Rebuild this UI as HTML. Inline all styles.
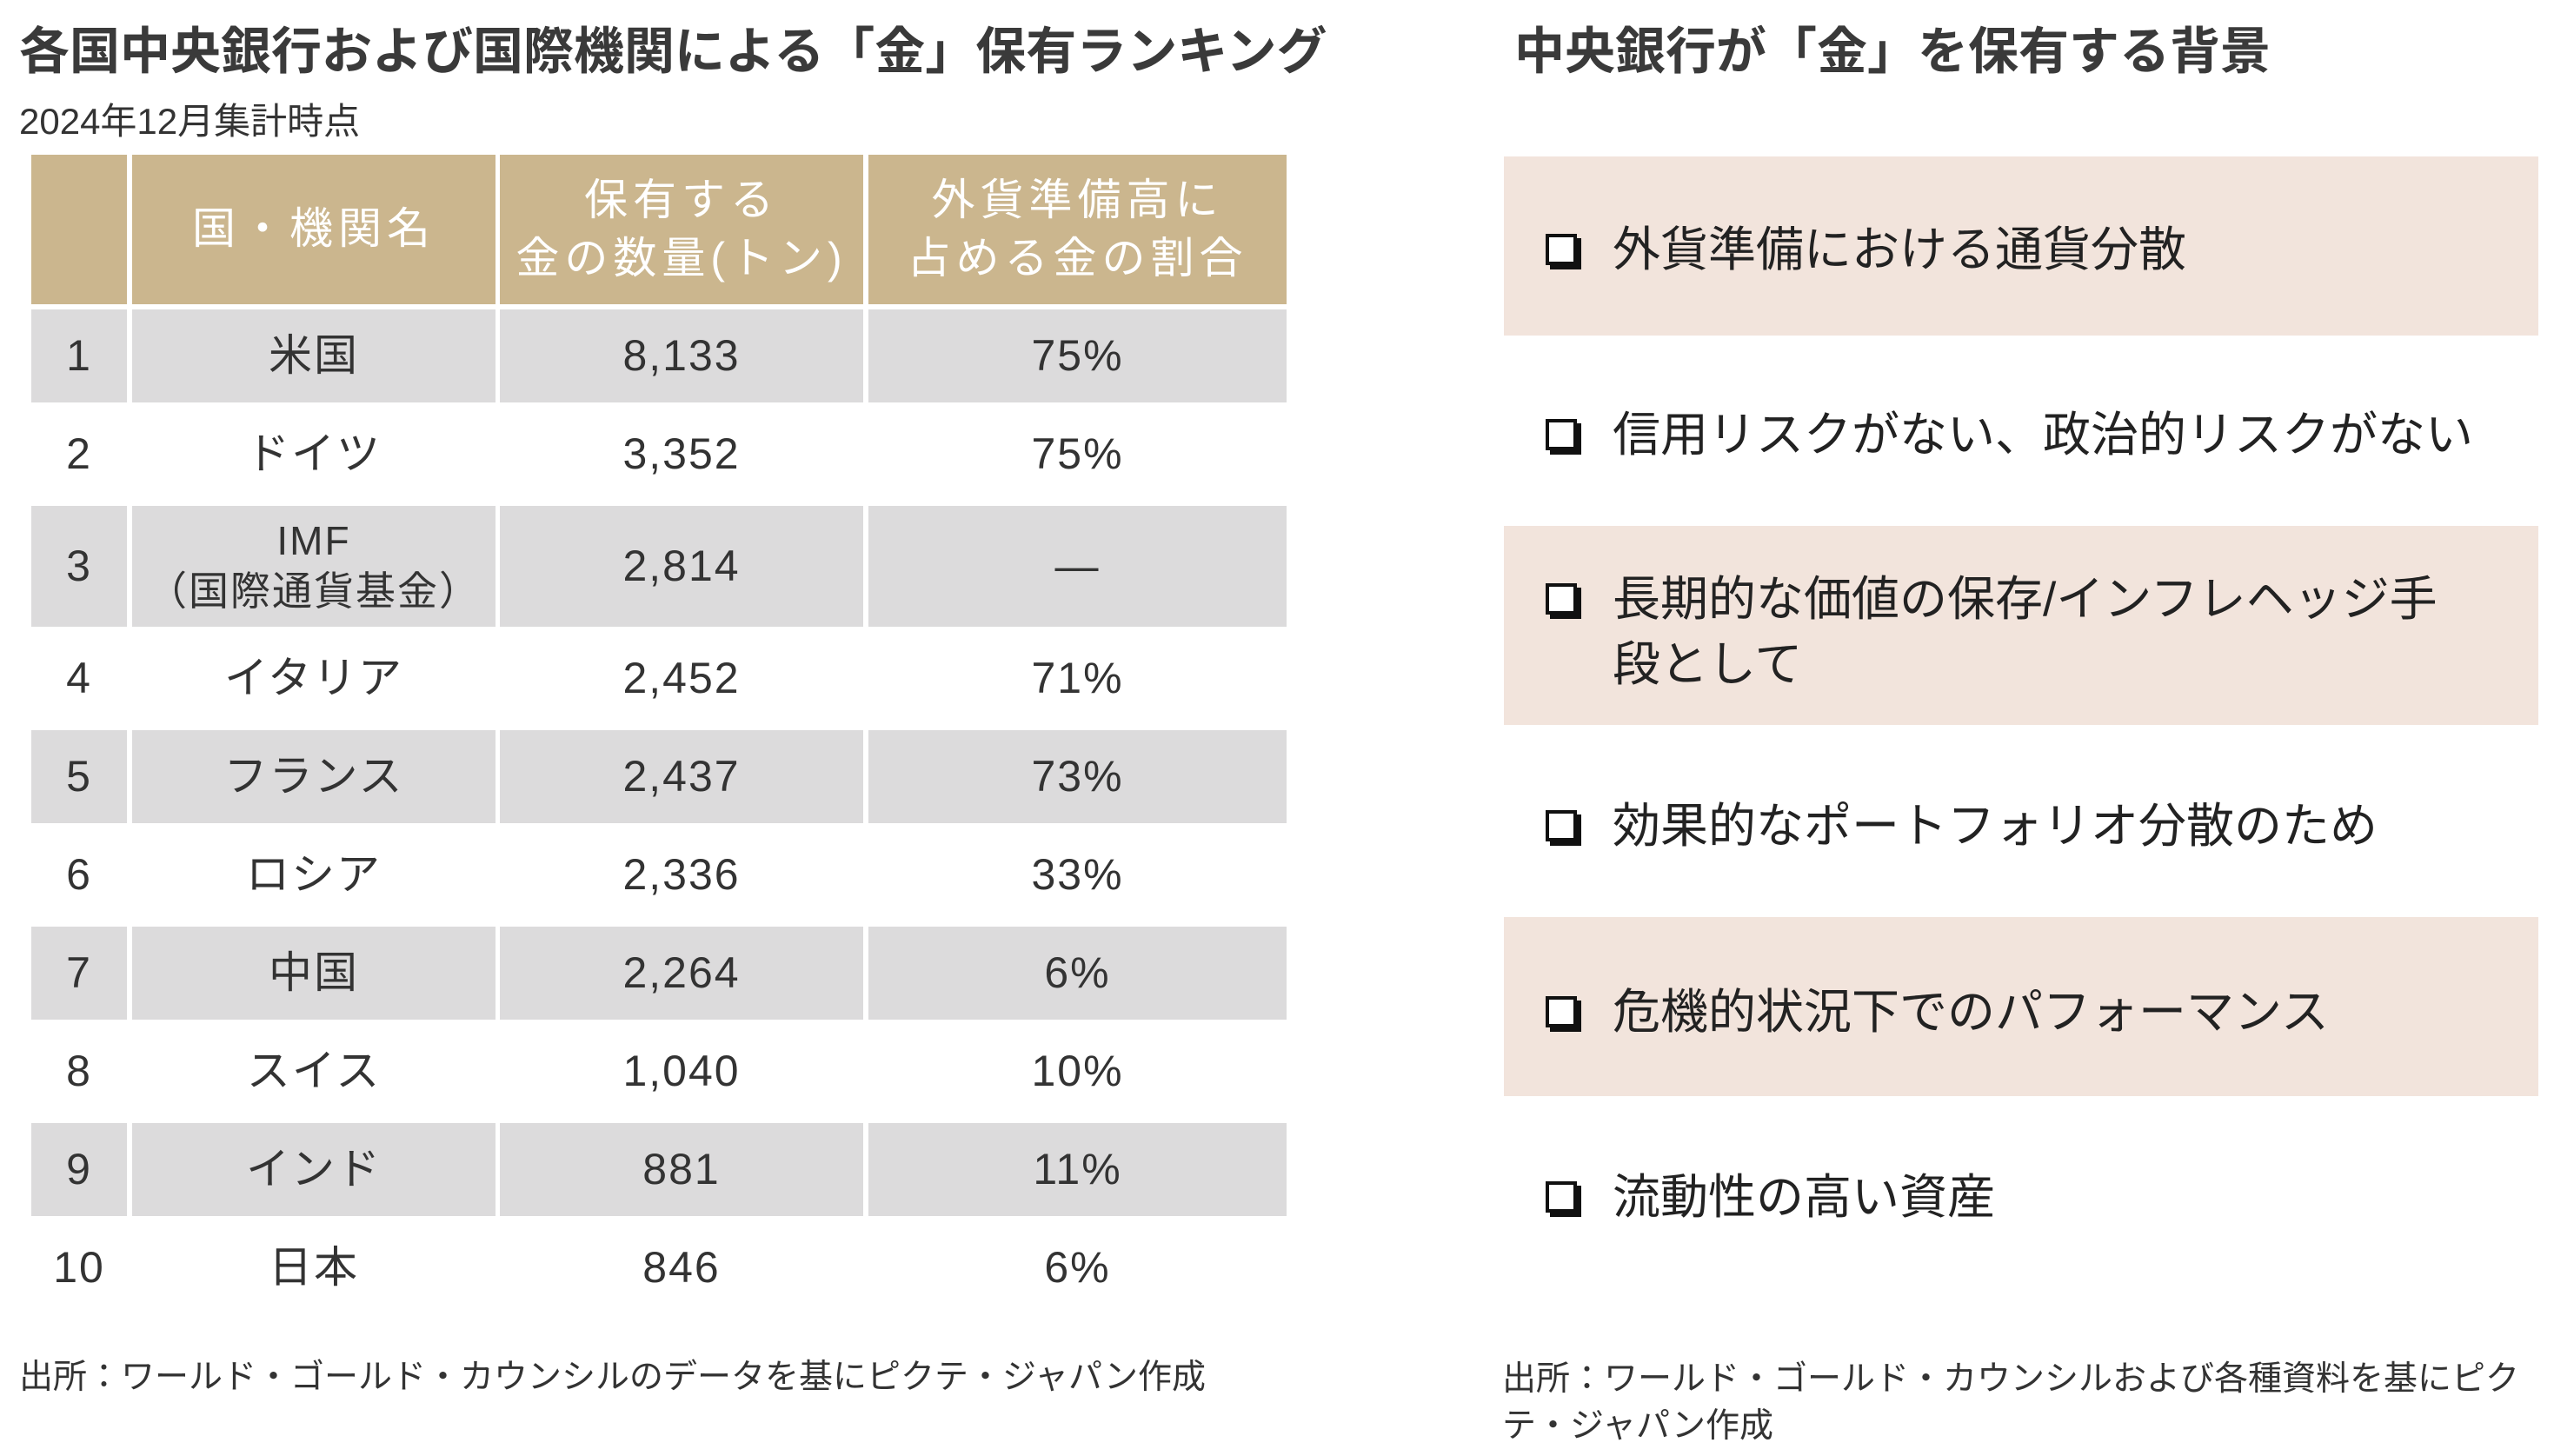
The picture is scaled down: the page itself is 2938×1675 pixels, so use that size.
<!DOCTYPE html>
<html><head><meta charset="utf-8">
<style>
body{margin:0;width:2938px;height:1675px;background:#fff;position:relative;overflow:hidden;font-family:"Liberation Sans","Noto Sans CJK JP",sans-serif;color:#333}
.a{position:absolute}
.title{font-size:58px;font-weight:bold;color:#3a3a3a;white-space:nowrap}
.cell{position:absolute;display:flex;align-items:center;justify-content:center;text-align:center;font-size:50px;line-height:1.15;color:#333;letter-spacing:2px}
.hd{background:#cbb68e;color:#fff;font-size:50px;letter-spacing:6px;line-height:1.35}
.box{position:absolute;left:1730px;width:1190px;background:#f2e4dc}
.item{position:absolute;left:1855px;font-size:55px;line-height:75px;color:#222;white-space:nowrap}
.cb{position:absolute;left:1778px;width:28px;height:28px;border:4px solid #111;box-shadow:5px 5px 0 #111;background:#fff}
.src{font-size:39px;color:#333;line-height:54px}
</style></head><body>
<div class="a title" style="left:22px;top:12px">各国中央銀行および国際機関による「金」保有ランキング</div>
<div class="a" style="left:22px;top:106px;font-size:42px;color:#333">2024年12月集計時点</div>
<div id="table"></div>
<div class="a src" style="left:22px;top:1558px;white-space:nowrap">出所：ワールド・ゴールド・カウンシルのデータを基にピクテ・ジャパン作成</div>

<div class="a title" style="left:1742px;top:12px">中央銀行が「金」を保有する背景</div>
<div class="box" style="top:180px;height:206px"></div>
<div class="box" style="top:605px;height:229px"></div>
<div class="box" style="top:1055px;height:206px"></div>
<div id="reasons"></div>
<div class="a src" style="left:1728px;top:1560px;width:1200px">出所：ワールド・ゴールド・カウンシルおよび各種資料を基にピクテ・ジャパン作成</div>

<script>
const ranks=["1","2","3","4","5","6","7","8","9","10"];
const names=["米国","ドイツ","IMF<br>（国際通貨基金）","イタリア","フランス","ロシア","中国","スイス","インド","日本"];
const tons=["8,133","3,352","2,814","2,452","2,437","2,336","2,264","1,040","881","846"];
const shares=["75%","75%","—","71%","73%","33%","6%","10%","11%","6%"];
const reasons=["外貨準備における通貨分散","信用リスクがない、政治的リスクがない","長期的な価値の保存/インフレヘッジ手<br>段として","効果的なポートフォリオ分散のため","危機的状況下でのパフォーマンス","流動性の高い資産"];

const cols=[[36,110],[152,418],[575,418],[999,481]];
const t=document.getElementById('table');
function mk(parent,cls,x,y,w,h,html,bg){
  const d=document.createElement('div');d.className=cls;
  d.style.left=x+'px';d.style.top=y+'px';d.style.width=w+'px';d.style.height=h+'px';
  if(bg)d.style.background=bg;d.innerHTML=html;parent.appendChild(d);return d;}
const heads=["","国・機関名","保有する<br>金の数量(トン)","外貨準備高に<br>占める金の割合"];
heads.forEach((h,i)=>{const d=mk(t,'cell hd',cols[i][0],178,cols[i][1],172,h);

});
let y=356;
ranks.forEach((r,i)=>{
  const h=(i===2)?139:107;
  const bg=(i%2===0)?'#dcdbdc':'';
  const vals=[r,names[i],tons[i],shares[i]];
  vals.forEach((v,j)=>{const d=mk(t,'cell',cols[j][0],y,cols[j][1],h,v,bg);
  if(i===2&&j===1){d.style.fontSize='46px';d.style.lineHeight='1.25';}
  
  });
  y+=h+6;
});
const ry=[287,500,727,950,1164,1377];
const rl=document.getElementById('reasons');
reasons.forEach((r,i)=>{
  const two=r.indexOf('<br>')>=0;
  const top=two?ry[i]-75:ry[i]-37;
  const cb=document.createElement('div');cb.className='cb';cb.style.top=(two?ry[i]-56:ry[i]-18)+'px';
  
  
  rl.appendChild(cb);
  const d=document.createElement('div');d.className='item';d.style.top=top+'px';d.innerHTML=r;
  
  
  rl.appendChild(d);
});
</script>
</body></html>
